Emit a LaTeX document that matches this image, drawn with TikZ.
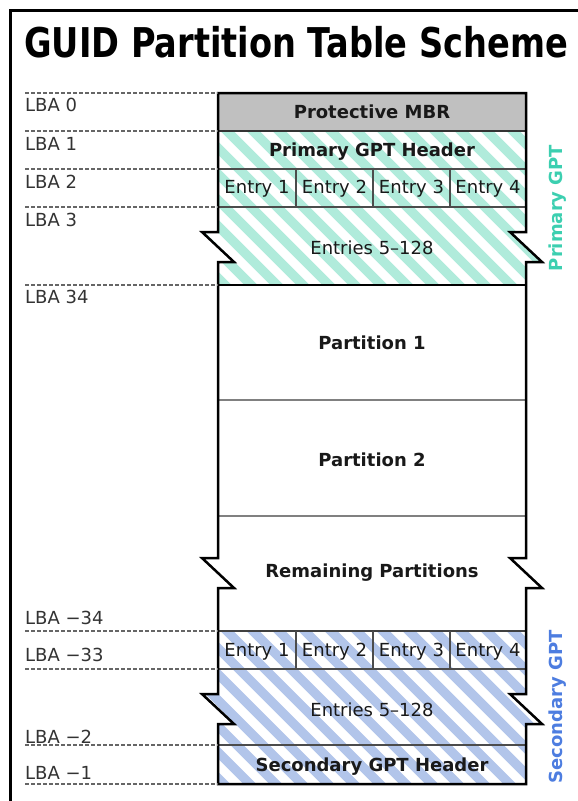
\documentclass[tikz,border=0pt]{standalone}
\usepackage{fontspec}
\setmainfont{DejaVu Sans}
\definecolor{mbrgray}{HTML}{C0C0C0}
\definecolor{mint}{HTML}{B0EBDB}
\definecolor{skyblue}{HTML}{B2C5EA}
\definecolor{primtxt}{HTML}{3CCFB0}
\definecolor{sectxt}{HTML}{4D7DE0}
% torn edge, going down / going up
\newcommand{\tear}{-- ++(-16,0) -- ++(32,30) -- ++(-16,0)}
\newcommand{\tearup}{-- ++(16,0) -- ++(-32,-30) -- ++(16,0)}

\begin{document}
\begin{tikzpicture}[x=1pt,y=-1pt]
\tikzstyle{every node}=[inner sep=0pt,text=black!90]
\tikzstyle{lba}=[anchor=west,font=\fontsize{18}{18}\selectfont,text=black!80]
\tikzstyle{cell}=[font=\fontsize{18}{18}\selectfont]
\tikzstyle{bold}=[font=\bfseries\fontsize{18}{18}\selectfont]
\tikzstyle{lbadash}=[black!60,dash pattern=on 4pt off 2pt,line width=1.3pt]
\useasboundingbox (0,0) rectangle (578,801);
\draw[line width=3pt] (10,801) -- (10,10) -- (578,10);
\node[anchor=base west,text=black] (title) at (24,57) {\scalebox{1}[1.22]{\bfseries\fontsize{33.6}{34}\selectfont GUID Partition Table Scheme}};

% fills
\fill[mbrgray] (218,93) rectangle (526,131);
\begin{scope}
\clip (218,131) -- (526,131) -- (526,232) \tear -- (526,285) -- (218,285) -- (218,262) \tearup -- cycle;
\foreach \s in {-220,-194,...,560}
  \draw[mint,line width=9.2pt] (\s,100) -- ++(260,260);
\end{scope}
\begin{scope}
\clip (218,631) -- (526,631) -- (526,694) \tear -- (526,784) -- (218,784) -- (218,724) \tearup -- cycle;
\foreach \s in {-220,-194,...,560}
  \draw[skyblue,line width=9.2pt] (\s,600) -- ++(260,260);
\end{scope}

% rows
\draw[line width=2pt,black!80] (218,131) -- (526,131);
\draw[line width=1.2pt,black!70] (218,169) -- (526,169) (218,207) -- (526,207);
\draw[line width=2.5pt] (218,285) -- (526,285);
\draw[line width=2.5pt,black!50] (218,400) -- (526,400) (218,516) -- (526,516);
\draw[line width=2pt,black!75] (218,631) -- (526,631);
\draw[line width=1.2pt,black!70] (218,669) -- (526,669) (218,745) -- (526,745);
\foreach \x in {296,373,450}
  \draw[line width=1.2pt,black!70] (\x,169) -- (\x,207) (\x,631) -- (\x,669);

% outline
\draw[line width=2.5pt] (218,93) -- (526,93) -- (526,232) \tear -- (526,558) \tear -- (526,694) \tear -- (526,784)
  -- (218,784) -- (218,724) \tearup -- (218,588) \tearup -- (218,262) \tearup -- cycle;

% lba marks
\foreach \y in {93,131,169,207,285,631,669,745,784}
  \draw[lbadash] (25,\y) -- (218,\y);
\foreach \n/\y/\t in {a/105/0,b/144/1,c/182/2,d/220/3,e/297/34,f/618/−34,g/655/−33,h/737/−2,i/773/−1}
  \node[lba] (lba\n) at (25,\y) {LBA \t};

% texts
\node[bold] (mbr) at (372,112) {Protective MBR};
\node[bold] (phdr) at (372,152) {Primary GPT Header};
\foreach \i/\x in {1/257,2/334.5,3/411.5,4/488}
  \node[cell] (pe\i) at (\x,189) {Entry \i};
\node[cell] (prest) at (372,248) {Entries 5–128};
\node[bold] (part1) at (372,343) {Partition 1};
\node[bold] (part2) at (372,460) {Partition 2};
\node[bold] (prem) at (372,573) {Remaining Partitions};
\foreach \i/\x in {1/257,2/334.5,3/411.5,4/488}
  \node[cell] (se\i) at (\x,652) {Entry \i};
\node[cell] (srest) at (372,710) {Entries 5–128};
\node[bold] (shdr) at (372,767) {Secondary GPT Header};
\node[bold,text=primtxt,rotate=90] (pgpt) at (558,208) {Primary GPT};
\node[bold,text=sectxt,rotate=90] (sgpt) at (558,707) {Secondary GPT};
\end{tikzpicture}
\end{document}
